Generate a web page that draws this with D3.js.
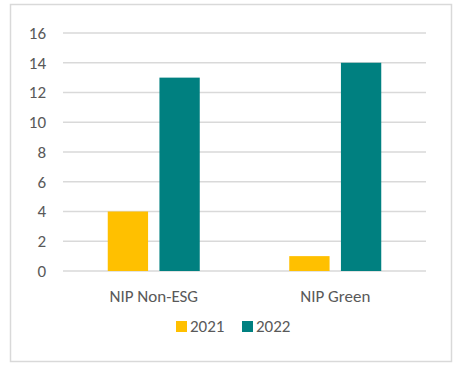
<!DOCTYPE html>
<html>
<head>
<meta charset="utf-8">
<script src="https://cdn.jsdelivr.net/npm/d3@7"></script>
<style>
  html, body { margin: 0; padding: 0; background: #fff; }
  svg { display: block; }
  text { font-family: Carlito, Lato, "Open Sans", sans-serif; fill: #595959; }
</style>
</head>
<body>
<div id="chart"></div>
<script>
// Number of issuances by category and year
const categories = ["NIP Non-ESG", "NIP Green"];
const seriesNames = ["2021", "2022"];
const values2021 = [4, 1];
const values2022 = [13, 14];
const yTicks = [0, 2, 4, 6, 8, 10, 12, 14, 16];
const colors = ["#FFC000", "#008080"];

const W = 462, H = 365;
const margin = { left: 63, right: 36, top: 33, bottom: 94 };
const fontSize = "17px";

const svg = d3.select("#chart").append("svg")
  .attr("width", W).attr("height", H);

// outer frame
svg.append("rect")
  .attr("x", 10.5).attr("y", 4.5)
  .attr("width", 441).attr("height", 357)
  .attr("fill", "#fff")
  .attr("stroke", "#d9d9d9").attr("stroke-width", 1.5);

const x0 = d3.scaleBand()
  .domain(categories)
  .range([margin.left, W - margin.right])
  .paddingInner(0).paddingOuter(0);

const y = d3.scaleLinear()
  .domain([0, 16])
  .range([H - margin.bottom, margin.top]);

const groupWidth = 92;
const x1 = d3.scaleBand()
  .domain(seriesNames)
  .range([0, groupWidth])
  .paddingInner(0.22);

// gridlines
svg.append("g")
  .selectAll("line")
  .data(yTicks)
  .join("line")
  .attr("x1", margin.left).attr("x2", W - margin.right)
  .attr("y1", d => y(d)).attr("y2", d => y(d))
  .attr("stroke", "#d9d9d9").attr("stroke-width", 1.5);

// y axis labels
const yAxis = d3.axisLeft(y).tickValues(yTicks).tickSize(0).tickPadding(17);
const gy = svg.append("g")
  .attr("transform", `translate(${margin.left},0)`)
  .call(yAxis);
gy.select(".domain").remove();
gy.selectAll("text")
  .style("font-size", fontSize)
  .attr("fill", "#595959");

// bars
const rows = categories.map((c, i) => ({
  category: c,
  values: [
    { series: seriesNames[0], value: values2021[i], color: colors[0] },
    { series: seriesNames[1], value: values2022[i], color: colors[1] }
  ]
}));

const groups = svg.append("g")
  .selectAll("g")
  .data(rows)
  .join("g")
  .attr("transform", d => `translate(${x0(d.category) + x0.bandwidth() / 2 - groupWidth / 2},0)`);

groups.selectAll("rect")
  .data(d => d.values)
  .join("rect")
  .attr("x", d => x1(d.series))
  .attr("width", x1.bandwidth())
  .attr("y", d => y(d.value))
  .attr("height", d => y(0) - y(d.value))
  .attr("fill", d => d.color);

// category axis
const xAxis = d3.axisBottom(x0).tickSize(0).tickPadding(19);
const gx = svg.append("g")
  .attr("transform", `translate(0,${y(0)})`)
  .call(xAxis);
gx.select(".domain").remove();
gx.selectAll("text")
  .style("font-size", fontSize)
  .attr("fill", "#595959");

// legend
const legend = svg.append("g").attr("transform", "translate(176,321)");
const items = legend.selectAll("g")
  .data(seriesNames)
  .join("g")
  .attr("transform", (d, i) => `translate(${i * 66},0)`);
items.append("rect")
  .attr("width", 11).attr("height", 11)
  .attr("fill", (d, i) => colors[i]);
items.append("text")
  .attr("x", 14).attr("y", 11.3)
  .style("font-size", fontSize)
  .text(d => d);
</script>
</body>
</html>
